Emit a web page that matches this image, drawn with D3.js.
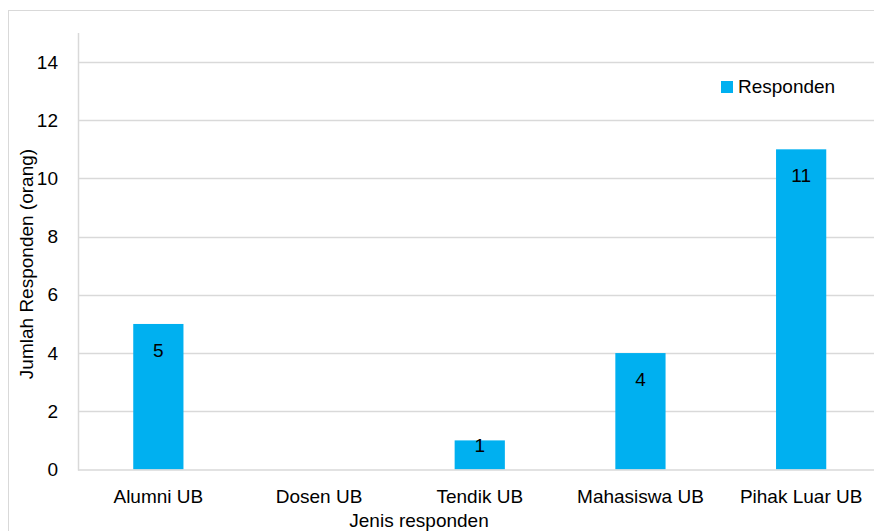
<!DOCTYPE html>
<html><head><meta charset="utf-8">
<script src="https://cdn.jsdelivr.net/npm/d3@7"></script>
<style>html,body{margin:0;padding:0;background:#fff;overflow:hidden}text{font-family:"Liberation Sans",Arial,sans-serif;}</style>
</head><body><svg id="c" width="874" height="531"></svg>
<script>
const categories = ["Alumni UB","Dosen UB","Tendik UB","Mahasiswa UB","Pihak Luar UB"];
const values = [5, 0, 1, 4, 11];
const yTicks = [0,2,4,6,8,10,12,14];
const seriesName = "Responden";
const xTitle = "Jenis responden";
const yTitle = "Jumlah Responden (orang)";
const color = "#00B0F0";
const fs = "19px";

const svg = d3.select("#c");
svg.append("rect").attr("x",8.5).attr("y",10.5).attr("width",900).attr("height",600)
  .attr("fill","#fff").attr("stroke","#d9d9d9").attr("stroke-width",1);

const x0 = 78, x1 = 881.5, yB = 469.5, yT = 62;
const x = d3.scaleBand().domain(categories).range([x0,x1]).paddingInner(0.6875).paddingOuter(0.34375);
const y = d3.scaleLinear().domain([0,14]).range([yB,yT]);

// gridlines
svg.append("g").selectAll("line").data(yTicks.filter(d=>d>0)).join("line")
  .attr("x1",x0).attr("x2",874).attr("y1",d=>Math.round(y(d))+0.5).attr("y2",d=>Math.round(y(d))+0.5)
  .attr("stroke","#d9d9d9").attr("stroke-width",1.5);

// bars
svg.append("g").selectAll("rect").data(categories).join("rect")
  .attr("x",(d)=>x(d)).attr("width",x.bandwidth())
  .attr("y",(d,i)=>y(values[i])).attr("height",(d,i)=>yB-y(values[i]))
  .attr("fill",color);

// x axis baseline
svg.append("line").attr("x1",x0).attr("x2",874).attr("y1",yB+0.5).attr("y2",yB+0.5)
  .attr("stroke","#d9d9d9").attr("stroke-width",1.5);
// y axis line
svg.append("line").attr("x1",x0+0.5).attr("x2",x0+0.5).attr("y1",33).attr("y2",yB+1)
  .attr("stroke","#d9d9d9").attr("stroke-width",1.5);

// y tick labels
const yAxis = d3.axisLeft(y).tickValues(yTicks).tickSize(0).tickPadding(20);
const gy = svg.append("g").attr("transform",`translate(${x0},0)`).call(yAxis);
gy.select(".domain").remove();
gy.selectAll("text").attr("font-size",fs).attr("fill","#000").attr("font-family","Liberation Sans, Arial, sans-serif");

// x tick labels
const xAxis = d3.axisBottom(x).tickSize(0).tickPadding(20);
const gx = svg.append("g").attr("transform",`translate(0,${yB})`).call(xAxis);
gx.select(".domain").remove();
gx.selectAll("text").attr("font-size",fs).attr("fill","#000").attr("font-family","Liberation Sans, Arial, sans-serif");

// value labels
svg.append("g").selectAll("text").data(categories.filter((d,i)=>values[i]>0)).join("text")
  .attr("x",d=>x(d)+x.bandwidth()/2)
  .attr("y",d=>{const v=values[categories.indexOf(d)]; const h=yB-y(v); return y(v)+Math.min(33,h*0.4);})
  .attr("text-anchor","middle").attr("font-size",fs).attr("fill","#000")
  .text(d=>values[categories.indexOf(d)]);

// axis titles
svg.append("text").attr("x",419).attr("y",527).attr("text-anchor","middle")
  .attr("font-size",fs).attr("fill","#000").text(xTitle);
svg.append("text").attr("transform","translate(33,264) rotate(-90)").attr("text-anchor","middle")
  .attr("font-size",fs).attr("fill","#000").text(yTitle);

// legend
svg.append("rect").attr("x",721).attr("y",81).attr("width",12).attr("height",12).attr("fill",color);
svg.append("text").attr("x",738).attr("y",93).attr("font-size",fs).attr("fill","#000").text(seriesName);
</script></body></html>
